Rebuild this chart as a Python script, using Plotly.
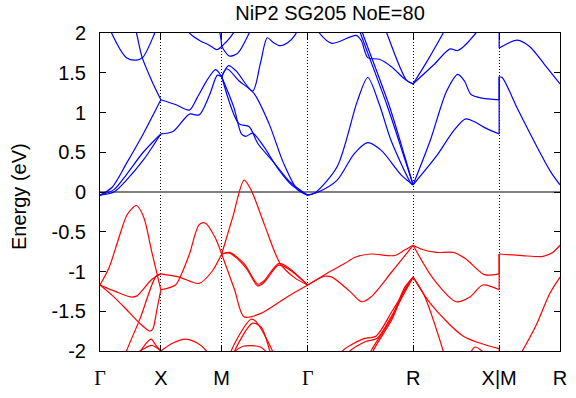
import plotly.graph_objects as go

# high-symmetry points along the path (distance in 2pi/a)
kpt_labels = ["Γ", "X", "M", "Γ", "R", "X|M", "R"]
kpt_dist = [0.0, 0.5, 1.0, 1.7071, 2.5731, 3.2802, 3.7802]

energy_ticks = [-2, -1.5, -1, -0.5, 0, 0.5, 1, 1.5, 2]
energy_ticktext = ["-2", "-1.5", "-1", "-0.5", "0", "0.5", "1", "1.5", "2"]

# bands per path segment: (t along segment 0..1, energy in eV)
gx_cond = [
    [(0, -0.04), (0.23, 0.03), (0.435, 0.22), (0.71, 0.50), (1, 0.73)],
    [(0, -0.04), (0.23, 0.0), (0.435, 0.15), (0.71, 0.40), (1, 0.73)],
    [(0, -0.04), (0.2, 0.06), (0.435, 0.36), (0.71, 0.73), (1, 1.16)],
    [(0.05, 2.3), (0.19, 2.0), (0.435, 1.69), (0.6, 1.66), (0.71, 1.70), (0.9, 2.0), (1, 2.2)],
    [(0.5, 2.3), (0.6, 2.0), (0.69, 1.70), (0.85, 1.40), (1, 1.16)],
]
gx_val = [
    [(0, -1.17), (0.15, -0.95), (0.3, -0.6), (0.45, -0.28), (0.6, -0.17), (0.72, -0.32), (0.85, -0.75), (1, -1.23)],
    [(0, -1.17), (0.25, -1.25), (0.5, -1.32), (0.6, -1.31), (0.85, -1.1), (1, -1.03)],
    [(0, -1.17), (0.2, -1.3), (0.4, -1.45), (0.65, -1.65), (0.82, -1.75), (0.87, -1.72), (0.93, -1.5), (1, -1.23)],
    [(0.3, -2.3), (0.435, -2.0), (0.66, -1.59), (0.92, -1.06), (1, -1.03)],
    [(0.6, -2.1), (0.71, -1.95), (0.84, -1.85), (0.92, -1.93), (1, -2.0)],
    [(0.55, -2.05), (0.7, -1.98), (0.85, -1.93), (1, -2.0)],
]

xm_cond = [
    [(0, 1.16), (0.24, 1.10), (0.47, 1.03), (0.6, 1.19), (0.77, 1.42), (0.9, 1.54), (1, 1.45)],
    [(0, 0.73), (0.2, 0.76), (0.47, 0.98), (0.63, 0.97), (0.8, 1.22), (0.93, 1.47), (1, 1.45)],
    [(0.3, 2.2), (0.47, 2.0), (0.65, 1.9), (0.79, 1.85), (0.92, 1.79), (1, 1.83)],
    [(0.9, 2.1), (0.97, 2.0), (1, 1.83)],
]
xm_val = [
    [(0, -1.23), (0.24, -1.17), (0.34, -1.03), (0.47, -0.78), (0.63, -0.41), (0.73, -0.39), (0.89, -0.57), (1, -0.78)],
    [(0, -1.03), (0.3, -1.07), (0.63, -1.15), (0.84, -1.0), (1, -0.78)],
    [(0, -2.0), (0.2, -1.9), (0.4, -1.85), (0.6, -1.9), (0.75, -2.0), (0.9, -2.2)],
]

mg_cond = [
    [(0, 1.45), (0.08, 1.59), (0.17, 1.52), (0.36, 1.27), (0.45, 1.62), (0.53, 1.94), (0.6, 1.88),
     (0.68, 1.84), (0.77, 1.88), (0.85, 1.97), (0.95, 2.2)],
    [(0, 1.45), (0.06, 1.55), (0.2, 1.4), (0.375, 1.24), (0.55, 0.86), (0.72, 0.36), (0.88, 0.03), (1, -0.04)],
    [(0, 1.45), (0.14, 1.07), (0.23, 0.73), (0.28, 0.70), (0.36, 0.74), (0.49, 0.57), (0.65, 0.3), (0.82, 0.08), (1, -0.04)],
    [(0, 1.45), (0.2, 0.86), (0.32, 0.82), (0.42, 0.61), (0.6, 0.38), (0.8, 0.12), (1, -0.04)],
    [(0, 1.83), (0.09, 1.71), (0.19, 1.75), (0.32, 2.0), (0.4, 2.2)],
    [(0, 1.83), (0.08, 1.92), (0.17, 2.05)],
]
mg_val = [
    [(0, -0.78), (0.13, -0.31), (0.26, 0.15), (0.34, 0.03), (0.5, -0.42), (0.68, -0.9), (0.85, -1.08), (1, -1.17)],
    [(0, -0.78), (0.09, -0.76), (0.26, -0.9), (0.42, -1.16), (0.49, -1.12), (0.66, -0.9), (0.76, -0.94), (1, -1.17)],
    [(0, -0.78), (0.09, -0.77), (0.28, -0.95), (0.42, -1.18), (0.5, -1.13), (0.66, -0.92), (0.78, -0.97), (1, -1.17)],
    [(0, -0.78), (0.15, -1.23), (0.26, -1.57), (0.45, -1.53), (0.76, -1.32), (1, -1.17)],
    [(0.05, -2.3), (0.11, -2.0), (0.34, -1.6), (0.4, -1.63), (0.59, -2.0), (0.65, -2.2)],
    [(0.1, -2.2), (0.15, -2.0), (0.36, -1.65), (0.46, -1.7), (0.56, -2.0), (0.62, -2.2)],
    [(0.1, -2.05), (0.25, -1.94), (0.45, -1.95), (0.55, -2.05)],
]

gr_cond = [
    [(0, -0.04), (0.1, 0.0), (0.28, 0.15), (0.44, 0.48), (0.57, 0.62), (0.7, 0.52), (0.89, 0.21), (1, 0.09)],
    [(0, -0.04), (0.07, -0.01), (0.28, 0.32), (0.47, 1.14), (0.57, 1.44), (0.68, 1.1), (0.79, 0.65), (0.98, 0.11), (1, 0.09)],
    [(0, 2.3), (0.11, 2.0), (0.23, 1.87), (0.46, 1.97), (0.51, 1.9), (0.57, 1.69), (0.68, 1.67), (0.8, 1.57), (0.92, 1.42), (1, 1.36)],
    [(0.45, 2.2), (0.5, 2.0), (0.75, 1.1), (0.9, 0.5), (1, 0.09)],
    [(0.47, 2.2), (0.52, 2.0), (0.77, 1.1), (0.92, 0.45), (1, 0.09)],
    [(0.7, 2.2), (0.75, 2.0), (0.94, 1.4), (1, 1.36)],
]
gr_val = [
    [(0, -1.17), (0.16, -1.04), (0.35, -0.9), (0.45, -0.82), (0.6, -0.78), (0.82, -0.8), (0.92, -0.73), (1, -0.67)],
    [(0, -1.17), (0.16, -1.06), (0.23, -1.07), (0.4, -1.25), (0.51, -1.38), (0.6, -1.32), (0.8, -1.0), (1, -0.67)],
    [(0.3, -2.1), (0.33, -2.0), (0.52, -1.85), (0.65, -1.81), (0.8, -1.5), (1, -1.07)],
    [(0.35, -2.1), (0.4, -2.0), (0.55, -1.88), (0.66, -1.84), (0.8, -1.55), (1, -1.07)],
    [(0.55, -2.2), (0.6, -2.0), (0.79, -1.6), (0.92, -1.2), (1, -1.07)],
    [(0.57, -2.2), (0.62, -2.0), (0.8, -1.6), (0.93, -1.2), (1, -1.07)],
]

rx_cond = [
    [(0, 1.36), (0.16, 1.64), (0.35, 2.0), (0.45, 2.2)],
    [(0, 1.36), (0.24, 1.6), (0.43, 1.8), (0.52, 1.78), (0.73, 2.0), (0.85, 2.2)],
    [(0, 0.09), (0.2, 0.65), (0.39, 1.27), (0.52, 1.48), (0.6, 1.39), (0.67, 1.23), (0.8, 1.18), (1, 1.16)],
    [(0, 0.09), (0.27, 0.45), (0.47, 0.77), (0.61, 0.92), (0.72, 0.88), (0.85, 0.8), (1, 0.73)],
]
rx_val = [
    [(0, -0.67), (0.1, -0.72), (0.27, -0.76), (0.47, -0.76), (0.61, -0.84), (0.83, -1.04), (1, -1.03)],
    [(0, -0.67), (0.24, -1.1), (0.5, -1.38), (0.66, -1.32), (0.81, -1.17), (1, -1.23)],
    [(0, -1.07), (0.2, -1.4), (0.58, -1.81), (1, -1.97)],
    [(0, -1.07), (0.12, -1.28), (0.35, -2.0), (0.4, -2.2)],
    [(0.65, -2.05), (0.72, -1.95), (0.8, -2.0), (0.88, -2.1)],
]

mr_cond = [
    [(0, 1.81), (0.3, 1.91), (0.5, 1.83), (0.75, 1.6), (1, 1.36)],
    [(0, 1.45), (0.05, 1.44), (0.3, 1.05), (0.6, 0.6), (0.85, 0.25), (1, 0.09)],
]
mr_val = [
    [(0, -0.78), (0.38, -0.8), (0.72, -0.81), (0.88, -0.76), (1, -0.67)],
    [(0, -2.3), (0.3, -2.1), (0.38, -2.0), (0.6, -1.69), (0.83, -1.28), (1, -1.07)],
]

# energy at X (end of R-X) -> energy at M (start of M-R), same band index
xm_jump_cond = [(0.73, 1.45), (1.16, 1.45), (2.3, 1.81)]
xm_jump_val = [(-1.23, -0.78), (-1.03, -0.78), (-1.97, -2.3)]

segments = [
    (0, 1, gx_cond, gx_val),
    (1, 2, xm_cond, xm_val),
    (2, 3, mg_cond, mg_val),
    (3, 4, gr_cond, gr_val),
    (4, 5, rx_cond, rx_val),
    (5, 6, mr_cond, mr_val),
]

BLUE = "#0000ff"
RED = "#ff0000"

fig = go.Figure()


def add_line(xs, ys, color, shape="spline"):
    fig.add_trace(go.Scatter(
        x=xs, y=ys, mode="lines",
        line=dict(color=color, width=1.2, shape=shape, smoothing=0.8),
        hoverinfo="skip", showlegend=False,
    ))


for i0, i1, cond, val in segments:
    k0, k1 = kpt_dist[i0], kpt_dist[i1]
    for bands, color in ((val, RED), (cond, BLUE)):
        for band in bands:
            add_line([k0 + t * (k1 - k0) for t, _ in band], [e for _, e in band], color)

for jumps, color in ((xm_jump_val, RED), (xm_jump_cond, BLUE)):
    for ex, em in jumps:
        add_line([kpt_dist[5], kpt_dist[5]], [ex, em], color, shape="linear")

font = "Liberation Sans, Arial, sans-serif"
ticktext = [
    '<span style="font-family:Liberation Serif">Γ</span>' if s == "Γ" else s
    for s in kpt_labels
]

fig.update_layout(
    width=576, height=398,
    margin=dict(l=100, r=9, t=33, b=43),
    paper_bgcolor="white", plot_bgcolor="white",
    font=dict(family=font, size=20, color="black"),
    title=dict(text="NiP2 SG205 NoE=80", x=0.5, xref="paper", xanchor="center",
               y=1 - 13 / 398, yref="container", yanchor="middle",
               font=dict(size=20)),
    xaxis=dict(
        range=[kpt_dist[0], kpt_dist[-1]],
        tickvals=kpt_dist, ticktext=ticktext,
        showgrid=True, gridcolor="black", griddash="1px,2px", gridwidth=1,
        showline=True, linecolor="black", linewidth=1, mirror="ticks",
        ticks="inside", ticklen=6, tickcolor="black", ticklabelstandoff=9,
        zeroline=False, fixedrange=True,
    ),
    yaxis=dict(
        range=[-2, 2],
        tickvals=energy_ticks, ticktext=energy_ticktext,
        showgrid=False,
        showline=True, linecolor="black", linewidth=1, mirror="ticks",
        ticks="inside", ticklen=6, tickcolor="black", ticklabelstandoff=9,
        zeroline=True, zerolinecolor="#808080", zerolinewidth=2,
        fixedrange=True,
    ),
    annotations=[dict(
        text="Energy (eV)", textangle=-90, showarrow=False,
        xref="paper", yref="paper", x=(18 - 100) / 467, y=0.485,
        xanchor="center", yanchor="middle", font=dict(size=20),
    )],
)

# page has a default body margin; remove it so the chart sits at the origin
fig.write_html(
    "out.html",
    config={"displayModeBar": False},
    post_script="document.documentElement.style.overflow='hidden';"
                "document.body.style.margin='0';",
)
